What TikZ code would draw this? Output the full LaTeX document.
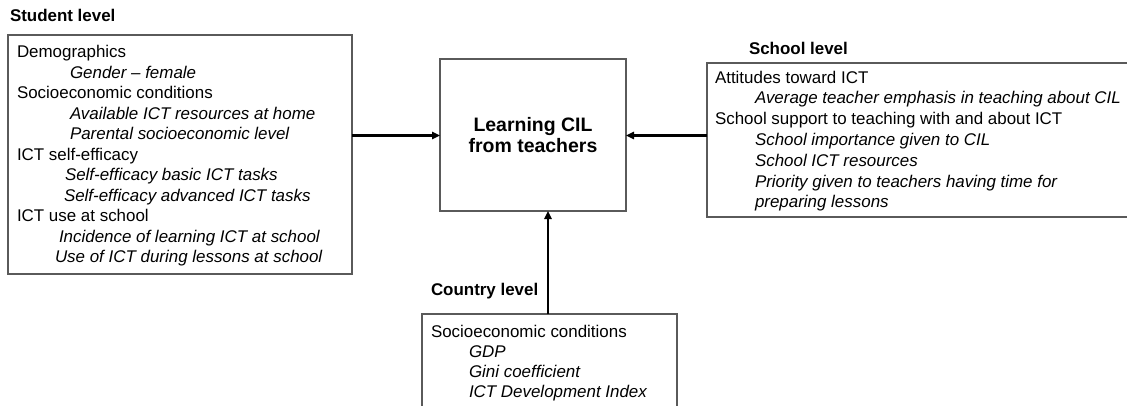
\documentclass[tikz,border=0pt]{standalone}
\usepackage{fontspec}
\setmainfont{Liberation Sans}
\usetikzlibrary{arrows.meta}
\definecolor{boxgray}{HTML}{5A5A5A}
\begin{document}
\begin{tikzpicture}[x=0.75pt,y=-0.75pt,
  every node/.style={inner sep=0pt,outer sep=0pt},
  boxframe/.style={draw=boxgray,line width=0.8pt,fill=none},
  txt/.style={anchor=base west,font=\fontsize{12.7}{15}\selectfont},
  itxt/.style={anchor=base west,font=\fontsize{12.7}{15}\selectfont\itshape},
  lvl/.style={anchor=base west,font=\fontsize{12.7}{15}\selectfont\bfseries},
  conn/.style={line width=1.6pt,-{Triangle[length=6pt,width=5.5pt]}}]
\useasboundingbox (0,0) rectangle (1127,405);
\clip (0,0) rectangle (1127,405);
% boxes
\node[boxframe,minimum width=344*0.75pt,minimum height=239*0.75pt,anchor=north west] (stud) at (8,35) {};
\node[boxframe,minimum width=186*0.75pt,minimum height=152*0.75pt,anchor=north west,
      align=center,font=\fontsize{14.6}{15.8}\selectfont\bfseries] (cil) at (440,59) {};
\node[font=\fontsize{14.6}{15.8}\selectfont\bfseries,align=center] (ciltext) at (cil.center) {Learning CIL\\from teachers};
\node[boxframe,minimum width=440*0.75pt,minimum height=154*0.75pt,anchor=north west] (school) at (707,63) {};
\node[boxframe,minimum width=255*0.75pt,minimum height=110*0.75pt,anchor=north west] (country) at (422,314) {};
% level labels
\node[lvl] (studlbl) at (10,21) {Student level};
\node[lvl] (schoollbl) at (749,54) {School level};
\node[lvl] (countrylbl) at (431,295) {Country level};
% student lines
\node[txt]  (s1)  at (17,57.5)  {Demographics};
\node[itxt] (s2)  at (70,78)    {Gender – female};
\node[txt]  (s3)  at (17,98.5)  {Socioeconomic conditions};
\node[itxt] (s4)  at (70,119)   {Available ICT resources at home};
\node[itxt] (s5)  at (70,139.5) {Parental socioeconomic level};
\node[txt]  (s6)  at (17,160)   {ICT self-efficacy};
\node[itxt] (s7)  at (65,180.5) {Self-efficacy basic ICT tasks};
\node[itxt] (s8)  at (64,201)   {Self-efficacy advanced ICT tasks};
\node[txt]  (s9)  at (17,221.5) {ICT use at school};
\node[itxt] (s10) at (59,242)   {Incidence of learning ICT at school};
\node[itxt] (s11) at (55,262.5) {Use of ICT during lessons at school};
% school lines
\node[txt]  (h1) at (715,83)    {Attitudes toward ICT};
\node[itxt] (h2) at (755,103.8) {Average teacher emphasis in teaching about CIL};
\node[txt]  (h3) at (715,124.6) {School support to teaching with and about ICT};
\node[itxt] (h4) at (755,145.4) {School importance given to CIL};
\node[itxt] (h5) at (755,166.2) {School ICT resources};
\node[itxt] (h6) at (755,187)   {Priority given to teachers having time for};
\node[itxt] (h7) at (755,207.8) {preparing lessons};
% country lines
\node[txt]  (c1) at (431,337) {Socioeconomic conditions};
\node[itxt] (c2) at (469,357) {GDP};
\node[itxt] (c3) at (469,377) {Gini coefficient};
\node[itxt] (c4) at (469,397) {ICT Development Index};
% connectors
\coordinate (ay) at (0,135.5);
\coordinate (ax) at (548,0);
\draw[conn] (stud.east |- ay) -- (cil.west |- ay);
\draw[conn] (school.west |- ay) -- (cil.east |- ay);
\draw[conn] (country.north -| ax) -- (cil.south -| ax);
\end{tikzpicture}
\end{document}
